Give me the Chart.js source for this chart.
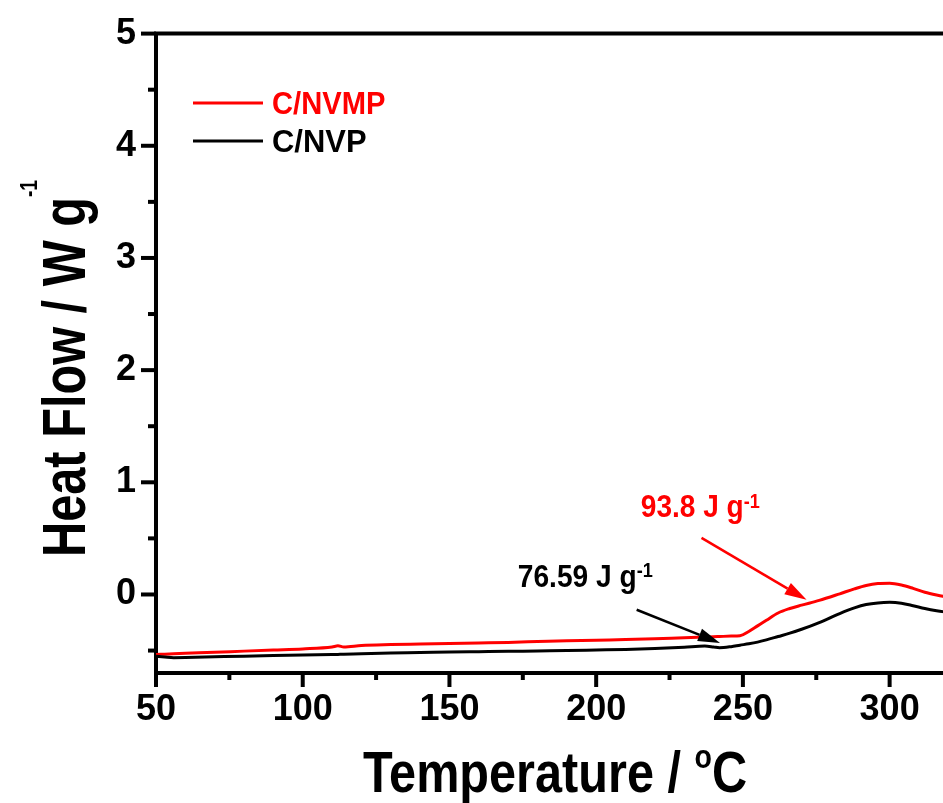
<!DOCTYPE html>
<html>
<head>
<meta charset="utf-8">
<title>DSC</title>
<script src="https://cdn.jsdelivr.net/npm/chart.js@4.4.1/dist/chart.umd.min.js"></script>
<style>
	body { margin: 0; background: #fff; }
	#wrap { width: 943px; height: 803px; overflow: hidden; }
</style>
</head>
<body>
<div id="wrap"><canvas id="dsc" width="1012" height="803"></canvas></div>
<script>
// temperatures (°C)
var temps = [50, 53, 56, 60, 70, 80, 90, 100, 110, 112, 114, 120, 130, 140, 150, 160, 170, 180, 190, 200, 210, 220, 230, 237, 240, 242, 246, 249, 252, 255, 258, 262, 266, 270, 276, 283, 288, 292, 296, 300, 304, 308, 312, 316, 320];

// heat flow, W/g
var nvmp = [-0.535, -0.532, -0.529, -0.525, -0.515, -0.505, -0.495, -0.485, -0.468, -0.458, -0.468, -0.455, -0.447, -0.442, -0.437, -0.432, -0.427, -0.420, -0.413, -0.407, -0.402, -0.395, -0.385, -0.379, -0.377, -0.375, -0.371, -0.368, -0.330, -0.280, -0.230, -0.165, -0.125, -0.095, -0.053, 0.006, 0.050, 0.080, 0.097, 0.100, 0.085, 0.055, 0.020, -0.005, -0.025];
var nvp = [-0.550, -0.557, -0.563, -0.562, -0.556, -0.550, -0.545, -0.540, -0.535, -0.534, -0.533, -0.528, -0.522, -0.518, -0.513, -0.510, -0.507, -0.503, -0.500, -0.495, -0.490, -0.482, -0.470, -0.460, -0.468, -0.475, -0.465, -0.452, -0.440, -0.425, -0.405, -0.375, -0.345, -0.310, -0.250, -0.170, -0.120, -0.090, -0.075, -0.070, -0.078, -0.100, -0.125, -0.145, -0.160];

var xTicks = [50, 100, 150, 200, 250, 300];
var xMinor = [75, 125, 175, 225, 275, 325];
var yTicks = [0, 1, 2, 3, 4, 5];
var yMinor = [-0.5, 0.5, 1.5, 2.5, 3.5, 4.5];

// enthalpy arrows, [start, tip] in data units
var nvmpArrow = [[235.9, 0.504], [271.7, -0.047]];
var nvpArrow = [[213.8, -0.136], [242.2, -0.433]];

var FONT = '"Liberation Sans", Arial, sans-serif';

function pts(ys) {
	return temps.map(function(t, i) { return { x: t, y: ys[i] }; });
}

// draws runs of text (with superscripts) squeezed to a given width
function drawRich(ctx, segs, x, y, width, rot) {
	var w = 0;
	segs.forEach(function(s) { ctx.font = s.font; w += ctx.measureText(s.text).width; });
	ctx.save();
	ctx.translate(x, y);
	if (rot) ctx.rotate(rot);
	ctx.scale(width / w, 1);
	ctx.textAlign = 'left';
	ctx.textBaseline = 'alphabetic';
	var cx = 0;
	segs.forEach(function(s) {
		ctx.font = s.font;
		ctx.fillStyle = s.color || '#000';
		ctx.fillText(s.text, cx, s.dy || 0);
		cx += ctx.measureText(s.text).width;
	});
	ctx.restore();
}

function arrow(ctx, a, b, color) {
	var ang = Math.atan2(b[1] - a[1], b[0] - a[0]);
	var len = 22, half = 6.5;
	var bx = b[0] - len * Math.cos(ang), by = b[1] - len * Math.sin(ang);
	ctx.save();
	ctx.strokeStyle = color;
	ctx.fillStyle = color;
	ctx.lineWidth = 2.5;
	ctx.beginPath();
	ctx.moveTo(a[0], a[1]);
	ctx.lineTo(bx, by);
	ctx.stroke();
	ctx.beginPath();
	ctx.moveTo(b[0], b[1]);
	ctx.lineTo(bx + half * Math.sin(ang), by - half * Math.cos(ang));
	ctx.lineTo(bx - half * Math.sin(ang), by + half * Math.cos(ang));
	ctx.closePath();
	ctx.fill();
	ctx.restore();
}

var decor = {
	id: 'decor',
	afterDraw: function(chart) {
		var ctx = chart.ctx;
		var xs = chart.scales.x, ys = chart.scales.y;
		var area = chart.chartArea;

		ctx.save();
		ctx.strokeStyle = '#000';
		ctx.lineWidth = 4;
		// top frame line
		ctx.beginPath();
		ctx.moveTo(area.left - 2, area.top);
		ctx.lineTo(area.right, area.top);
		ctx.stroke();

		// tick marks, major and minor
		function tick(x1, y1, x2, y2) {
			ctx.beginPath();
			ctx.moveTo(x1, y1);
			ctx.lineTo(x2, y2);
			ctx.stroke();
		}
		xTicks.forEach(function(v) { var p = xs.getPixelForValue(v); tick(p, area.bottom, p, area.bottom + 14); });
		xMinor.forEach(function(v) { var p = xs.getPixelForValue(v); tick(p, area.bottom, p, area.bottom + 7); });
		yTicks.forEach(function(v) { var p = ys.getPixelForValue(v); tick(area.left, p, area.left - 15, p); });
		yMinor.forEach(function(v) { var p = ys.getPixelForValue(v); tick(area.left, p, area.left - 8, p); });
		ctx.restore();

		// axis titles
		drawRich(ctx, [
			{ text: 'Temperature / ', font: 'bold 58px ' + FONT },
			{ text: 'o', font: 'bold 34px ' + FONT, dy: -24 },
			{ text: 'C', font: 'bold 58px ' + FONT }
		], 363, 792, 384);
		drawRich(ctx, [
			{ text: 'Heat Flow / W g', font: 'bold 61px ' + FONT },
			{ text: '-1', font: 'bold 24px ' + FONT, dy: -48 }
		], 85, 557, 377, -Math.PI / 2);

		// legend
		chart.data.datasets.slice().reverse().forEach(function(ds, i) {
			var y = 103 + i * 38;
			ctx.save();
			ctx.strokeStyle = ds.borderColor;
			ctx.lineWidth = 3;
			ctx.beginPath();
			ctx.moveTo(193, y);
			ctx.lineTo(263, y);
			ctx.stroke();
			ctx.restore();
			drawRich(ctx, [{ text: ds.label, font: 'bold 31px ' + FONT, color: ds.borderColor }], 272, y + 11, ds.label.length * 18.9);
		});

		// enthalpy labels and arrows
		function px(p) { return [xs.getPixelForValue(p[0]), ys.getPixelForValue(p[1])]; }
		arrow(ctx, px(nvmpArrow[0]), px(nvmpArrow[1]), '#ff0000');
		arrow(ctx, px(nvpArrow[0]), px(nvpArrow[1]), '#000');
		drawRich(ctx, [
			{ text: '93.8 J g', font: 'bold 31px ' + FONT, color: '#ff0000' },
			{ text: '-1', font: 'bold 20px ' + FONT, color: '#ff0000', dy: -9 }
		], xs.getPixelForValue(215.2), ys.getPixelForValue(0.694), 119);
		drawRich(ctx, [
			{ text: '76.59 J g', font: 'bold 31px ' + FONT },
			{ text: '-1', font: 'bold 20px ' + FONT, dy: -10 }
		], xs.getPixelForValue(173.3), ys.getPixelForValue(0.065), 135);
	}
};

var ctx = document.getElementById('dsc').getContext('2d');
var chart = new Chart(ctx, {
	type: 'line',
	data: {
		datasets: [
			{ label: 'C/NVP', data: pts(nvp), borderColor: '#000000' },
			{ label: 'C/NVMP', data: pts(nvmp), borderColor: '#ff0000' }
		]
	},
	options: {
		responsive: false,
		animation: false,
		devicePixelRatio: 1,
		layout: { padding: { top: 24, right: 5, left: 0, bottom: 0 } },
		elements: {
			point: { radius: 0 },
			line: { borderWidth: 3, cubicInterpolationMode: 'monotone', fill: false }
		},
		plugins: { legend: { display: false }, tooltip: { enabled: false } },
		scales: {
			x: {
				type: 'linear',
				min: 50,
				max: 340,
				grid: { display: false },
				border: { display: true, color: '#000', width: 4 },
				ticks: { color: '#000', font: { family: FONT, size: 36, weight: 'bold' }, padding: 7, maxRotation: 0 },
				afterBuildTicks: function(s) { s.ticks = xTicks.map(function(v) { return { value: v }; }); },
				afterFit: function(s) { s.height = 130; }
			},
			y: {
				type: 'linear',
				min: -0.7,
				max: 5,
				grid: { display: false },
				border: { display: true, color: '#000', width: 4 },
				ticks: { color: '#000', font: { family: FONT, size: 36, weight: 'bold' }, padding: 12 },
				afterBuildTicks: function(s) { s.ticks = yTicks.map(function(v) { return { value: v }; }); },
				afterFit: function(s) { s.width = 156; }
			}
		}
	},
	plugins: [decor]
});
</script>
</body>
</html>
